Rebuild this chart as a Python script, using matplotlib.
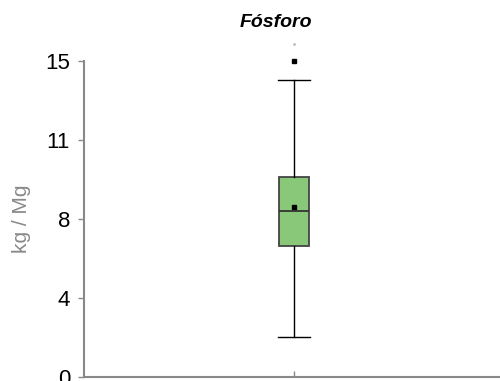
import matplotlib.pyplot as plt
from matplotlib import font_manager

# Data
labels = ["Fósforo"]
whislo = [1.9]
q1 = [6.23]
med = [7.86]
q3 = [9.49]
whishi = [14.11]
means = [8.07]
fliers = [[15.0]]
faint = [15.83]

names = {f.name for f in font_manager.fontManager.ttflist}
fam = "Liberation Sans Narrow" if "Liberation Sans Narrow" in names else "Liberation Sans"
plt.rcParams["font.family"] = [fam, "DejaVu Sans"]

fig = plt.figure(figsize=(5, 3.81), dpi=100)
ax = fig.add_axes([0.168, 0.0105, 0.84, 0.829])

stats = [dict(label=labels[0], whislo=whislo[0], q1=q1[0], med=med[0], q3=q3[0],
              whishi=whishi[0], mean=means[0], fliers=fliers[0])]
ax.bxp(stats, positions=[1], widths=0.143, showmeans=True, patch_artist=True,
       boxprops=dict(facecolor="#88c878", edgecolor="#444444", linewidth=1.3),
       medianprops=dict(color="#333333", linewidth=1.3),
       whiskerprops=dict(color="black", linewidth=1),
       capprops=dict(color="black", linewidth=1),
       capwidths=0.15,
       meanprops=dict(marker="s", markerfacecolor="black", markeredgecolor="black", markersize=3.5),
       flierprops=dict(marker="s", markerfacecolor="black", markeredgecolor="black", markersize=3.5))
for a in ax.get_children():
    if hasattr(a, "set_clip_on"):
        a.set_clip_on(False)
ax.plot([1], faint, marker="o", markersize=1, color="#bbbbbb", linestyle="none", clip_on=False)

ax.set_xlim(0, 2)
ax.set_ylim(0, 15)
ax.set_yticks([0, 3.75, 7.5, 11.25, 15])
ax.set_yticklabels(["0", "4", "8", "11", "15"])
ax.set_xticks([1])
ax.set_xticklabels([""])
ax.tick_params(axis="y", labelsize=16, length=4, color="#888888", width=1, pad=6)
ax.tick_params(axis="x", length=4, color="#888888", width=1, direction="in")
for s in ["top", "right"]:
    ax.spines[s].set_visible(False)
for s in ["left", "bottom"]:
    ax.spines[s].set_color("#888888")
    ax.spines[s].set_linewidth(1.5)

ax.set_ylabel("kg / Mg", fontsize=15, color="#888888", labelpad=10)
fig.text(0.552, 0.94, "Fósforo", fontsize=14, fontweight="bold", fontstyle="italic",
         ha="center", va="center")

fig.savefig("out.png", dpi=100)
